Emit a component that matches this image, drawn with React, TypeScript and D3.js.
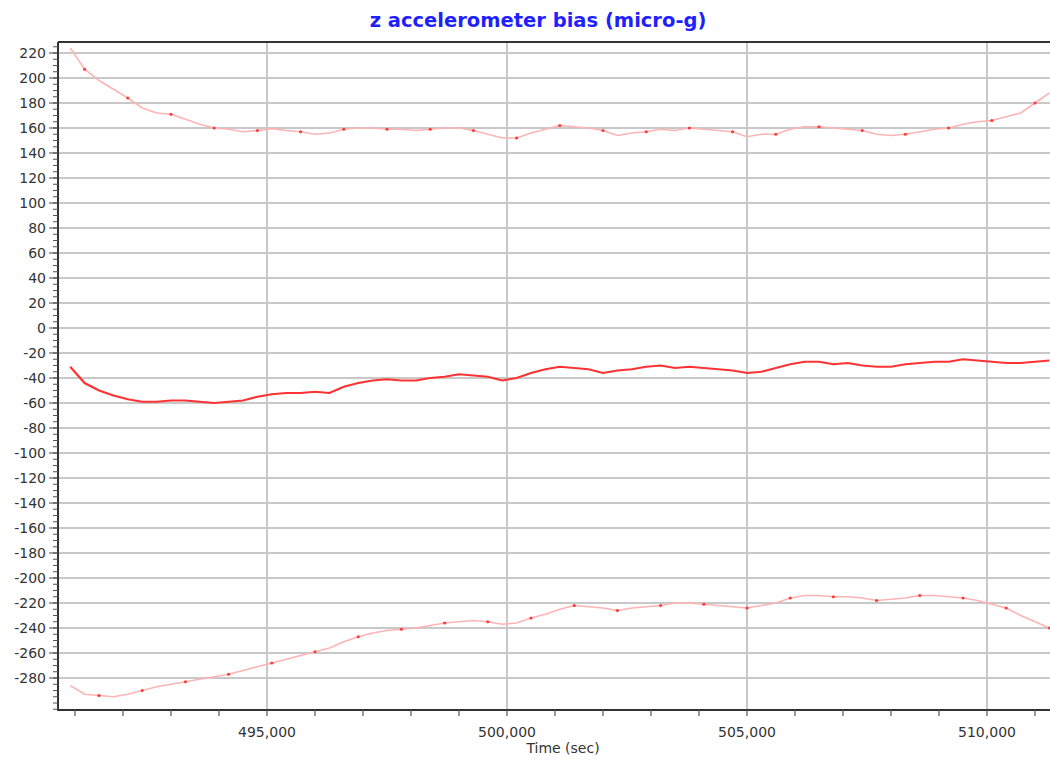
import React from "react";
import * as d3 from "d3";

const WIDTH = 1050;
const HEIGHT = 761;

const TITLE = "z accelerometer bias (micro-g)";
const X_LABEL = "Time (sec)";

// sample times (sec), every 300 s
const times: number[] = d3.range(490900, 511301, 300);

const upperSeries: number[] = [
  224, 207, 198, 191, 184, 176, 172, 171, 167, 163,
  160, 159, 157, 158, 159.5, 158, 157, 155, 156, 159,
  160, 160, 159, 159, 158, 159, 160, 160, 158, 155,
  152, 152, 156, 159, 162, 161, 160, 158, 154, 156,
  157, 159, 158, 160, 159, 158, 157, 153, 155, 155,
  159, 161, 161, 160, 159, 158, 155, 154, 155, 157,
  159, 160, 163, 165, 166, 169, 172, 180, 188,
];

const middleSeries: number[] = [
  -31, -44, -50, -54, -57, -59, -59, -58, -58, -59,
  -60, -59, -58, -55, -53, -52, -52, -51, -52, -47,
  -44, -42, -41, -42, -42, -40, -39, -37, -38, -39,
  -42, -40, -36, -33, -31, -32, -33, -36, -34, -33,
  -31, -30, -32, -31, -32, -33, -34, -36, -35, -32,
  -29, -27, -27, -29, -28, -30, -31, -31, -29, -28,
  -27, -27, -25, -26, -27, -28, -28, -27, -26,
];

const lowerSeries: number[] = [
  -286, -293, -294, -295, -293, -290, -287, -285, -283, -281,
  -279, -277, -274, -271, -268, -265, -262, -259, -256, -251,
  -247, -244, -242, -241, -240, -238, -236, -235, -234, -235,
  -237, -236, -232, -229, -225, -222, -223, -224, -226, -224,
  -223, -222, -220, -220, -221, -222, -223, -224, -222, -220,
  -216, -214, -214, -215, -215, -216, -218, -217, -216, -214,
  -214, -215, -216, -218, -221, -224, -230, -235, -240,
];

const yTickValues: number[] = d3.range(-280, 221, 20);
const yMinorTicks: number[] = d3.range(-305, 226, 5);
const xTickValues: number[] = [495000, 500000, 505000, 510000];
const xMinorTicks: number[] = d3.range(491000, 511001, 1000);

export default function App() {
  const left = 58;
  const top = 42;
  const bottom = 710;
  const right = 1050;

  const x = d3.scaleLinear().domain([490645.8, 511312.5]).range([left, right]);
  const y = d3.scaleLinear().domain([-305.6, 228.8]).range([bottom, top]);

  const lineGen = (vals: number[]) =>
    d3
      .line<number>()
      .x((_, i) => x(times[i]))
      .y((d) => y(d))(vals) as string;

  const fmt = d3.format(",");
  const font = "'DejaVu Sans', Verdana, sans-serif";

  return (
    <svg width={WIDTH} height={HEIGHT} style={{ position: "absolute", left: 0, top: 0, background: "#fff" }}>
      <rect x={0} y={0} width={WIDTH} height={HEIGHT} fill="#fff" />
      <text x={538} y={27} textAnchor="middle" fontFamily={font} fontWeight="bold" fontSize={19.5} fill="#1f1fff">
        {TITLE}
      </text>

      {/* grid */}
      {yTickValues.map((v) => (
        <line key={"gy" + v} x1={left} x2={right} y1={y(v)} y2={y(v)} stroke="#c8c8c8" strokeWidth={2} />
      ))}
      {xTickValues.map((v) => (
        <line key={"gx" + v} x1={x(v)} x2={x(v)} y1={top} y2={bottom} stroke="#c8c8c8" strokeWidth={2} />
      ))}

      {/* series */}
      <path d={lineGen(upperSeries)} fill="none" stroke="#ffb4b4" strokeWidth={1.6} />
      <path d={lineGen(lowerSeries)} fill="none" stroke="#ffb4b4" strokeWidth={1.6} />
      {upperSeries.map((v, i) =>
        i % 3 === 1 ? <circle key={"ud" + i} cx={x(times[i])} cy={y(v)} r={1.6} fill="#ff3a3a" /> : null
      )}
      {lowerSeries.map((v, i) =>
        i % 3 === 2 ? <circle key={"ld" + i} cx={x(times[i])} cy={y(v)} r={1.6} fill="#ff3a3a" /> : null
      )}
      <path d={lineGen(middleSeries)} fill="none" stroke="#ff3333" strokeWidth={2.2} />

      {/* frame */}
      <line x1={left} x2={right} y1={top} y2={top} stroke="#333" strokeWidth={2} />
      <line x1={left} x2={left} y1={top} y2={bottom + 1} stroke="#333" strokeWidth={2} />
      <line x1={left} x2={right} y1={bottom} y2={bottom} stroke="#333" strokeWidth={2} />

      {/* y axis ticks */}
      {yMinorTicks.map((v) => (
        <line key={"ym" + v} x1={53} x2={left} y1={y(v)} y2={y(v)} stroke="#555" strokeWidth={1} />
      ))}
      {yTickValues.map((v) => (
        <g key={"yt" + v}>
          <line x1={49} x2={left} y1={y(v)} y2={y(v)} stroke="#444" strokeWidth={1} />
          <text x={46} y={y(v) + 5} textAnchor="end" fontFamily={font} fontSize={14} fill="#333">
            {v}
          </text>
        </g>
      ))}

      {/* x axis ticks */}
      {xMinorTicks.map((v) => (
        <line key={"xm" + v} x1={x(v)} x2={x(v)} y1={bottom} y2={bottom + 6} stroke="#555" strokeWidth={1.2} />
      ))}
      {xTickValues.map((v) => (
        <text key={"xt" + v} x={x(v)} y={737} textAnchor="middle" fontFamily={font} fontSize={14} fill="#333">
          {fmt(v)}
        </text>
      ))}
      <text x={563} y={753} textAnchor="middle" fontFamily={font} fontSize={14} fill="#333">
        {X_LABEL}
      </text>
    </svg>
  );
}
